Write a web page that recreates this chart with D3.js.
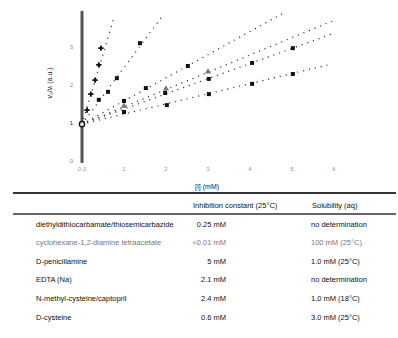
<!DOCTYPE html>
<html>
<head>
<meta charset="utf-8">
<script src="https://cdn.jsdelivr.net/npm/d3@7"></script>
<style>
    body { margin: 0; background: #fff; }
    svg { font-family: 'Liberation Sans', Arial, sans-serif; }
</style>
</head>
<body>
<div id="chart"></div>
<script>
const width = 398;
const height = 338;

// axes
const xTicks = [0, 1, 2, 3, 4, 5, 6];
const xTickLabels = ['0.0', '1', '2', '3', '4', '5', '6'];
const yTicks = [0, 1, 2, 3];
const yTickLabels = ['0', '1', '2', '3'];
const xLabel = '[I] (mM)';
const yLabel = 'v\u2080/v\u1d62 (a.u.)';

// common intercept (no inhibitor)
const control = [0, 0.97];

// fitted lines, [x0, y0, x1, y1] in data units
const fitLines = [
    [0, 0.97, 0.78, 3.84],
    [0, 0.97, 1.93, 3.84],
    [0, 0.97, 4.79, 3.89],
    [0, 0.97, 6.02, 3.71],
    [0, 0.97, 6.02, 3.37],
    [0, 0.97, 5.93, 2.55],
];

// measured points per inhibitor
const pts1 = [[0.12, 1.34], [0.21, 1.76], [0.31, 2.13], [0.40, 2.53], [0.45, 2.97]];
const pts2 = [[0.40, 1.61], [0.62, 1.82], [0.83, 2.18], [1.38, 3.10]];
const pts3 = [[1.00, 1.58], [1.52, 1.92], [2.52, 2.50]];
const pts4 = [[1.00, 1.45], [2.00, 1.90], [3.00, 2.35]];
const pts5 = [[1.98, 1.79], [3.02, 2.16], [4.05, 2.58], [5.02, 2.97]];
const pts6 = [[1.00, 1.29], [2.02, 1.47], [3.02, 1.76], [4.05, 2.03], [5.02, 2.29]];
const allPoints = [pts1, pts2, pts3, pts4, pts5, pts6];

// table
const tableHeaders = ['Inhibition constant (25\u00b0C)', 'Solubility (aq)'];
const compounds = [
    'diethyldithiocarbamate/thiosemicarbazide',
    'cyclohexane-1,2-diamine tetraacetate',
    'D-penicillamine',
    'EDTA (Na)',
    'N-methyl-cysteine/captopril',
    'D-cysteine',
];
const kiValues = ['0.25 mM', '<0.01 mM', '5 mM', '2.1 mM', '2.4 mM', '0.6 mM'];
const solubility = ['no determination', '100 mM (25\u00b0C)', '1.0 mM (25\u00b0C)', 'no determination', '1.0 mM (18\u00b0C)', '3.0 mM (25\u00b0C)'];

const symbols = [d3.symbolCross, d3.symbolSquare, d3.symbolSquare, d3.symbolTriangle, d3.symbolSquare, d3.symbolSquare];

const svg = d3.select('#chart').append('svg')
    .attr('width', width)
    .attr('height', height);

const x = d3.scaleLinear().domain([0, 6]).range([82, 334]);
const y = d3.scaleLinear().domain([0, 4]).range([161, 9]);

// y axis bar
svg.append('line')
    .attr('x1', x(0)).attr('x2', x(0))
    .attr('y1', y(-0.05)).attr('y2', y(3.95))
    .attr('stroke', '#555')
    .attr('stroke-width', 3);

svg.append('g')
    .selectAll('text')
    .data(yTicks)
    .join('text')
    .attr('x', 73)
    .attr('y', d => y(d) + 2)
    .attr('text-anchor', 'end')
    .attr('font-size', 6)
    .attr('fill', (d, i) => i === 1 ? '#222' : '#888')
    .text((d, i) => yTickLabels[i]);

svg.append('g')
    .selectAll('text')
    .data(xTicks)
    .join('text')
    .attr('x', d => x(d))
    .attr('y', 171)
    .attr('text-anchor', 'middle')
    .attr('font-size', 6)
    .attr('fill', '#999')
    .text((d, i) => xTickLabels[i]);

svg.append('text')
    .attr('x', 207)
    .attr('y', 189)
    .attr('text-anchor', 'middle')
    .attr('font-size', 7)
    .attr('fill', '#222')
    .text(xLabel);

svg.append('text')
    .attr('transform', 'translate(52, 83) rotate(-90)')
    .attr('text-anchor', 'middle')
    .attr('font-size', 7)
    .attr('fill', '#222')
    .text(yLabel);

// dotted fit lines
svg.append('g')
    .selectAll('line')
    .data(fitLines)
    .join('line')
    .attr('x1', d => x(d[0])).attr('y1', d => y(d[1]))
    .attr('x2', d => x(d[2])).attr('y2', d => y(d[3]))
    .attr('stroke', '#333')
    .attr('stroke-width', 1.4)
    .attr('stroke-linecap', 'round')
    .attr('stroke-dasharray', '0,6');

// markers
allPoints.forEach((pts, i) => {
    svg.append('g')
        .selectAll('path')
        .data(pts)
        .join('path')
        .attr('transform', d => `translate(${x(d[0])},${y(d[1])})`)
        .attr('d', d3.symbol().type(symbols[i]).size(16))
        .attr('fill', i === 3 ? '#777' : '#111');
});

svg.append('circle')
    .attr('cx', x(control[0]))
    .attr('cy', y(control[1]))
    .attr('r', 2.6)
    .attr('fill', '#eee')
    .attr('stroke', '#111')
    .attr('stroke-width', 1.4);

// table
const table = svg.append('g');
table.append('line')
    .attr('x1', 13).attr('x2', 396)
    .attr('y1', 193).attr('y2', 193)
    .attr('stroke', '#333').attr('stroke-width', 2);
table.append('line')
    .attr('x1', 13).attr('x2', 396)
    .attr('y1', 214).attr('y2', 214)
    .attr('stroke', '#333').attr('stroke-width', 1.5);

table.append('text')
    .attr('x', 193).attr('y', 207.5)
    .attr('font-size', 7.5).attr('fill', '#111')
    .text(tableHeaders[0]);
table.append('text')
    .attr('x', 312).attr('y', 207.5)
    .attr('font-size', 7.5).attr('fill', '#111')
    .text(tableHeaders[1]);

const rowY = d3.scalePoint().domain(d3.range(compounds.length)).range([226.5, 319.5]);

const rows = table.selectAll('g.row')
    .data(compounds)
    .join('g')
    .attr('class', 'row')
    .attr('transform', (d, i) => `translate(0, ${rowY(i)})`)
    .attr('font-size', 7.5)
    .attr('fill', (d, i) => i === 1 ? '#777' : '#111');

rows.append('text').attr('x', 36).text(d => d);
rows.append('text').attr('x', 226).attr('text-anchor', 'end').text((d, i) => kiValues[i]);
rows.append('text').attr('x', 311).text((d, i) => solubility[i]);
</script>
</body>
</html>
